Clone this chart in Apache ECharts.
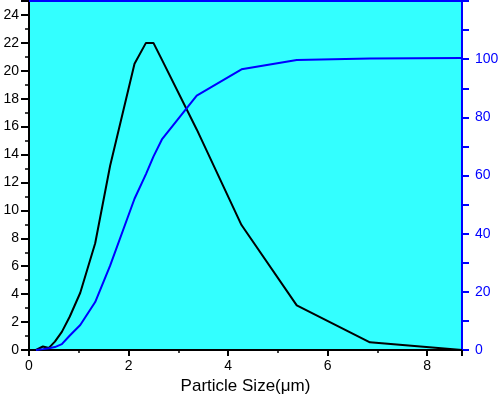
<!DOCTYPE html>
<html>
<head>
<meta charset="utf-8">
<script src="https://cdn.jsdelivr.net/npm/echarts@6/dist/echarts.min.js"></script>
<style>
  html, body { margin: 0; padding: 0; background: #ffffff; }
  #main { width: 500px; height: 397px; }
</style>
</head>
<body>
<div id="main"></div>
<script>
// 粒径 (μm)
var sizes = [0.14, 0.28, 0.40, 0.52, 0.66, 0.82, 1.03, 1.33, 1.63, 2.12, 2.35, 2.50, 2.67, 3.37, 4.27, 5.38, 6.85, 8.70];
// 区间分布 (%)
var freq = [0, 0.25, 0.15, 0.6, 1.3, 2.4, 4.1, 7.65, 13.2, 20.5, 22.0, 22.0, 20.8, 15.8, 8.95, 3.2, 0.55, 0];
// 累计分布 (%)
var cumu = [0, 0.3, 0.6, 1.0, 2.0, 5.0, 8.6, 16.5, 29, 52, 60.5, 66.5, 72.4, 87.5, 96.5, 99.7, 100.2, 100.4];

function pairs(xs, ys) {
  var out = [];
  for (var i = 0; i < xs.length; i++) out.push([xs[i], ys[i]]);
  return out;
}

var font = 'Liberation Sans';
var chart = echarts.init(document.getElementById('main'), null, { renderer: 'canvas' });

var option = {
  backgroundColor: '#ffffff',
  animation: false,
  grid: {
    left: 29, right: 38, top: 1, bottom: 47,
    outerBoundsMode: 'none',
    containLabel: false,
    show: true,
    backgroundColor: '#33ffff',
    borderWidth: 0
  },
  xAxis: [{
    type: 'value',
    min: 0,
    max: 8.7,
    interval: 2,
    name: 'Particle Size(μm)',
    nameLocation: 'middle',
    nameGap: 24,
    nameTextStyle: { color: '#000', fontSize: 17, fontFamily: font },
    axisLine: { show: true, onZero: false, lineStyle: { color: '#000', width: 2 } },
    axisTick: { show: true, length: 6, lineStyle: { color: '#000', width: 2 } },
    minorTick: { show: true, splitNumber: 2, length: 3, lineStyle: { color: '#000', width: 1.5 } },
    axisLabel: { color: '#000', fontSize: 14, fontFamily: font, margin: 9, showMaxLabel: false },
    splitLine: { show: false }
  }, {
    // 顶部边框
    type: 'value',
    position: 'top',
    min: 0,
    max: 8.7,
    axisLine: { show: true, onZero: false, lineStyle: { color: '#0000ff', width: 2 } },
    axisTick: { show: false },
    axisLabel: { show: false },
    splitLine: { show: false }
  }],
  yAxis: [{
    type: 'value',
    position: 'left',
    min: 0,
    max: 25,
    interval: 2,
    axisLine: { show: true, onZero: false, lineStyle: { color: '#000', width: 2 } },
    axisTick: { show: true, length: 8, lineStyle: { color: '#000', width: 2 } },
    minorTick: { show: true, splitNumber: 2, length: 4, lineStyle: { color: '#000', width: 1.5 } },
    axisLabel: { color: '#000', fontSize: 14, fontFamily: font, margin: 10, showMaxLabel: false },
    splitLine: { show: false }
  }, {
    type: 'value',
    position: 'right',
    min: 0,
    max: 120,
    interval: 10,
    axisLine: { show: true, onZero: false, lineStyle: { color: '#0000ff', width: 2 } },
    axisTick: { show: true, length: 7, lineStyle: { color: '#0000ff', width: 2 } },
    axisLabel: {
      color: '#0000ff', fontSize: 14, fontFamily: font, margin: 13,
      formatter: function (v) { return (v % 20 === 0 && v <= 100) ? String(v) : ''; }
    },
    splitLine: { show: false }
  }],
  series: [{
    type: 'line',
    data: pairs(sizes, freq),
    xAxisIndex: 0,
    yAxisIndex: 0,
    showSymbol: false,
    lineStyle: { color: '#000000', width: 2 },
    itemStyle: { color: '#000000' }
  }, {
    type: 'line',
    data: pairs(sizes, cumu),
    xAxisIndex: 0,
    yAxisIndex: 1,
    showSymbol: false,
    lineStyle: { color: '#0000ff', width: 2 },
    itemStyle: { color: '#0000ff' }
  }]
};

chart.setOption(option);
</script>
</body>
</html>
